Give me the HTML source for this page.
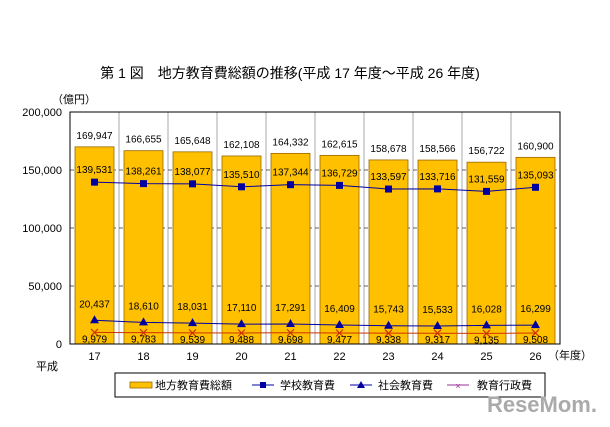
<!DOCTYPE html>
<html><head><meta charset="utf-8"><style>
body{margin:0;background:#fff;font-family:"Liberation Sans","Noto Sans CJK JP",sans-serif;}
svg text{font-family:"Liberation Sans","Noto Sans CJK JP",sans-serif;}
</style></head><body>
<svg id="c" width="610" height="422" xmlns="http://www.w3.org/2000/svg">
<text x="290" y="78" font-size="14" text-anchor="middle">第 1 図　地方教育費総額の推移(平成 17 年度～平成 26 年度)</text>
<text x="52" y="103" font-size="11">（億円）</text>
<text x="36" y="370" font-size="11">平成</text>
<text x="548" y="359" font-size="11">（年度）</text>
<g id="g"></g>
<g>
<rect x="115" y="373" width="430" height="24" fill="#fff" stroke="#000" stroke-width="1"/>
<rect x="130" y="382" width="22" height="6" fill="#FFC000" stroke="#996600" stroke-width="0.8"/>
<text x="155" y="389" font-size="11">地方教育費総額</text>
<line x1="252" y1="385" x2="274" y2="385" stroke="#0000A0"/><rect x="260" y="382" width="6" height="6" fill="#0000A0"/>
<text x="280" y="389" font-size="11">学校教育費</text>
<line x1="350" y1="385" x2="372" y2="385" stroke="#0000A0"/><polygon points="361,381 365,388 357,388" fill="#0000A0"/>
<text x="378" y="389" font-size="11">社会教育費</text>
<line x1="447" y1="385" x2="469" y2="385" stroke="#993399"/><text x="458" y="389" font-size="9" fill="#993399" text-anchor="middle">×</text>
<text x="477" y="389" font-size="11">教育行政費</text>
</g>
<text x="597" y="412" font-size="22" font-weight="bold" fill="#aaa" text-anchor="end">ReseMom.</text>
</svg>
<script>
const categories=["17","18","19","20","21","22","23","24","25","26"];
const totalVals=[169947,166655,165648,162108,164332,162615,158678,158566,156722,160900];
const schoolVals=[139531,138261,138077,135510,137344,136729,133597,133716,131559,135093];
const socialVals=[20437,18610,18031,17110,17291,16409,15743,15533,16028,16299];
const adminVals=[9979,9783,9539,9488,9698,9477,9338,9317,9135,9508];
const yTicks=[0,50000,100000,150000,200000];
const L=70,R=560,T=112,B=344,MAX=200000;
const cw=(R-L)/categories.length;
const x=i=>L+cw*(i+0.5);
const y=v=>B-v/MAX*(B-T);
const NS="http://www.w3.org/2000/svg";
const g=document.getElementById('g');
function mk(t,a,txt){const e=document.createElementNS(NS,t);for(const k in a)e.setAttribute(k,a[k]);if(txt!==undefined)e.textContent=txt;g.appendChild(e);return e;}
const fmt=v=>v.toLocaleString('en-US');
mk('rect',{x:L,y:T,width:R-L,height:B-T,fill:'#fff'});
categories.forEach((c,i)=>{if(i>0){const e=mk('line',{x1:L+cw*i,y1:T,x2:L+cw*i,y2:B,stroke:'#aaa','stroke-width':1});

}});
yTicks.forEach(t=>{
 if(t>0&&t<MAX){const e=mk('line',{x1:L,y1:y(t),x2:R,y2:y(t),stroke:'#333','stroke-dasharray':'4,3','stroke-width':0.8});
 
 }
 const tx=mk('text',{x:L-8,y:y(t)+4,'font-size':11,'text-anchor':'end'},fmt(t));
 
 
});
const bw=39;
categories.forEach((c,i)=>{
 const b=mk('rect',{x:x(i)-bw/2,y:y(totalVals[i]),width:bw,height:B-y(totalVals[i]),fill:'#FFC000',stroke:'#996600','stroke-width':0.8});
 
 
 const l=mk('text',{x:x(i),y:y(totalVals[i])-8,'font-size':10,'text-anchor':'middle'},fmt(totalVals[i]));
 
 
 const xl=mk('text',{x:x(i),y:B+16,'font-size':11,'text-anchor':'middle'},c);
 
 
});
mk('rect',{x:L,y:T,width:R-L,height:B-T,fill:'none',stroke:'#000','stroke-width':1});
function series(vals,color,kind,name,dy){
 const p=mk('polyline',{points:vals.map((v,i)=>x(i)+','+y(v)).join(' '),fill:'none',stroke:color,'stroke-width':1});
 
 
 vals.forEach((v,i)=>{
  const cx=x(i),cy=y(v);let m;
  if(kind==='sq')m=mk('rect',{x:cx-3.5,y:cy-3.5,width:7,height:7,fill:color});
  else if(kind==='tri')m=mk('polygon',{points:`${cx},${cy-5} ${cx+4.5},${cy+3} ${cx-4.5},${cy+3}`,fill:color});
  else m=mk('path',{d:`M${cx-3.5} ${cy-3.5}L${cx+3.5} ${cy+3.5}M${cx+3.5} ${cy-3.5}L${cx-3.5} ${cy+3.5}`,stroke:color,'stroke-width':1.2});
  
  
  const t=mk('text',{x:cx,y:cy+dy,'font-size':10,'text-anchor':'middle'},fmt(v));
  
  
 });
}
series(schoolVals,'#0000A0','sq','school',-9);
series(socialVals,'#0000A0','tri','social',-13);
series(adminVals,'#CC3300','x','admin',10);
</script>
</body></html>
